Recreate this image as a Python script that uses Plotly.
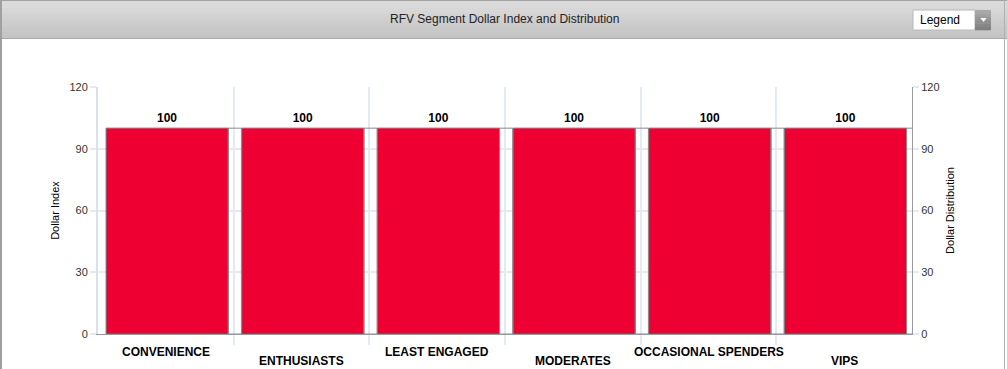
import plotly.graph_objects as go

categories = ["CONVENIENCE", "ENTHUSIASTS", "LEAST ENGAGED", "MODERATES", "OCCASIONAL SPENDERS", "VIPS"]
dollar_index = [100, 100, 100, 100, 100, 100]
dollar_distribution = [100, 100, 100, 100, 100, 100]
y_ticks = [0, 30, 60, 90, 120]
title_text = "RFV Segment Dollar Index and Distribution"

W, H = 1007, 369
L, R, T, B = 98, 912, 87, 334
FONT = "Arial, Liberation Sans, sans-serif"

def px(x):
    return (x - L) / (R - L)

def py(y):
    return (B - y) / (B - T)

xs = list(range(len(categories)))

fig = go.Figure()
fig.add_trace(go.Bar(
    x=xs, y=dollar_index, name="Dollar Index",
    width=0.9, offset=-0.44,
    marker=dict(color="#EE0033", line=dict(color="#6b6b6b", width=1)),
    text=[str(v) for v in dollar_index], textposition="outside",
    textfont=dict(family=FONT, size=12, color="#000000", weight="bold"),
    cliponaxis=False, hoverinfo="skip",
))
fig.add_trace(go.Bar(
    x=xs, y=dollar_distribution, name="Dollar Distribution", yaxis="y2",
    width=0.097, offset=0.46,
    marker=dict(color="rgba(255,255,255,0)", line=dict(color="#8a8a8a", width=1)),
    hoverinfo="skip",
))

shapes = []
# header gradient
n = 12
top, bot = 1, 38
c0, c1 = (0xdb, 0xdb, 0xdb), (0xc4, 0xc4, 0xc4)
for i in range(n):
    y0 = top + (bot - top) * i / n
    y1 = top + (bot - top) * (i + 1) / n
    t = i / (n - 1)
    c = tuple(round(a + (b - a) * t) for a, b in zip(c0, c1))
    shapes.append(dict(type="rect", xref="paper", yref="paper", layer="below",
                       x0=px(0), x1=px(W), y0=py(y1 + 0.5), y1=py(y0),
                       fillcolor="rgb(%d,%d,%d)" % c, line=dict(width=0)))
# header borders
shapes.append(dict(type="line", xref="paper", yref="paper", x0=px(0), x1=px(W), y0=py(0.5), y1=py(0.5),
                   line=dict(color="#a0a0a0", width=1)))
shapes.append(dict(type="line", xref="paper", yref="paper", x0=px(0), x1=px(W), y0=py(38.5), y1=py(38.5),
                   line=dict(color="#a8a8a8", width=1)))
# side borders
shapes.append(dict(type="line", xref="paper", yref="paper", x0=px(1), x1=px(1), y0=py(0), y1=py(H),
                   line=dict(color="#a0a0a0", width=2)))
shapes.append(dict(type="line", xref="paper", yref="paper", x0=px(1004.5), x1=px(1004.5), y0=py(0), y1=py(H),
                   line=dict(color="#b0b0b0", width=1)))
# legend dropdown
shapes.append(dict(type="rect", xref="paper", yref="paper", x0=px(913), x1=px(975), y0=py(30), y1=py(10),
                   fillcolor="#ffffff", line=dict(color="#b8b8b8", width=1)))
nb = 6
for i in range(nb):
    y0 = 10 + 20 * i / nb
    y1 = 10 + 20 * (i + 1) / nb
    t = i / (nb - 1)
    c = tuple(round(a + (b - a) * t) for a, b in zip((0xa8, 0xa8, 0xa8), (0x80, 0x80, 0x80)))
    shapes.append(dict(type="rect", xref="paper", yref="paper", x0=px(975), x1=px(991), y0=py(y1 + 0.3), y1=py(y0),
                       fillcolor="rgb(%d,%d,%d)" % c, line=dict(width=0)))
shapes.append(dict(type="path", xref="paper", yref="paper",
                   path="M %f,%f L %f,%f L %f,%f Z" % (px(980.5), py(18), px(986.5), py(18), px(983.5), py(22)),
                   fillcolor="#ffffff", line=dict(width=0)))

annotations = [
    dict(text=title_text, x=px(504), y=py(19), xref="paper", yref="paper", showarrow=False,
         xanchor="center", yanchor="middle", font=dict(family=FONT, size=12, color="#222222")),
    dict(text="Legend", x=px(918), y=py(20), xref="paper", yref="paper", showarrow=False,
         xanchor="left", yanchor="middle", font=dict(family=FONT, size=12, color="#000000")),
]
for i, cat in enumerate(categories):
    annotations.append(dict(text="<b>%s</b>" % cat, x=i, y=0, xref="x", yref="paper", showarrow=False,
                            xanchor="center", yanchor="middle", yshift=-18 if i % 2 == 0 else -27,
                            font=dict(family=FONT, size=12, color="#000000")))

grid = "#e2eaf4"
fig.update_layout(
    width=W, height=H,
    margin=dict(l=L, r=W - R, t=T, b=H - B, pad=0),
    paper_bgcolor="#ffffff", plot_bgcolor="#ffffff",
    showlegend=False, barmode="overlay",
    font=dict(family=FONT, size=11, color="#333333"),
    xaxis=dict(range=[-0.5, len(categories) - 0.5], tickvals=xs, showticklabels=False,
               showgrid=False, zeroline=False, ticks="",
               showline=True, linecolor="#9a9a9a", linewidth=1,
               minor=dict(tickvals=[i + 0.5 for i in xs[:-1]], showgrid=True, gridcolor=grid, gridwidth=2,
                          ticks="outside", ticklen=10, tickcolor=grid, tickwidth=2)),
    yaxis=dict(range=[0, 120], tickvals=y_ticks, showgrid=True, gridcolor=grid, gridwidth=2,
               zeroline=False, showline=True, linecolor="#d8e2ee", linewidth=2,
               ticks="outside", ticklen=6, tickcolor=grid, tickwidth=2,
               tickfont=dict(family=FONT, size=11, color="#333333"),
               title=dict(text="Dollar Index", standoff=8, font=dict(family=FONT, size=11, color="#000000"))),
    yaxis2=dict(range=[0, 120], tickvals=y_ticks, overlaying="y", side="right", showgrid=False,
                zeroline=False, showline=True, linecolor="#9a9a9a", linewidth=1,
                ticks="outside", ticklen=6, tickcolor=grid, tickwidth=2,
                tickfont=dict(family=FONT, size=11, color="#333333"),
                title=dict(text="Dollar Distribution", standoff=7, font=dict(family=FONT, size=11, color="#000000"))),
    shapes=shapes, annotations=annotations,
)

fig.write_html("out.html", config={"displayModeBar": False},
               post_script="document.body.style.margin='0';document.body.style.overflow='hidden';")
